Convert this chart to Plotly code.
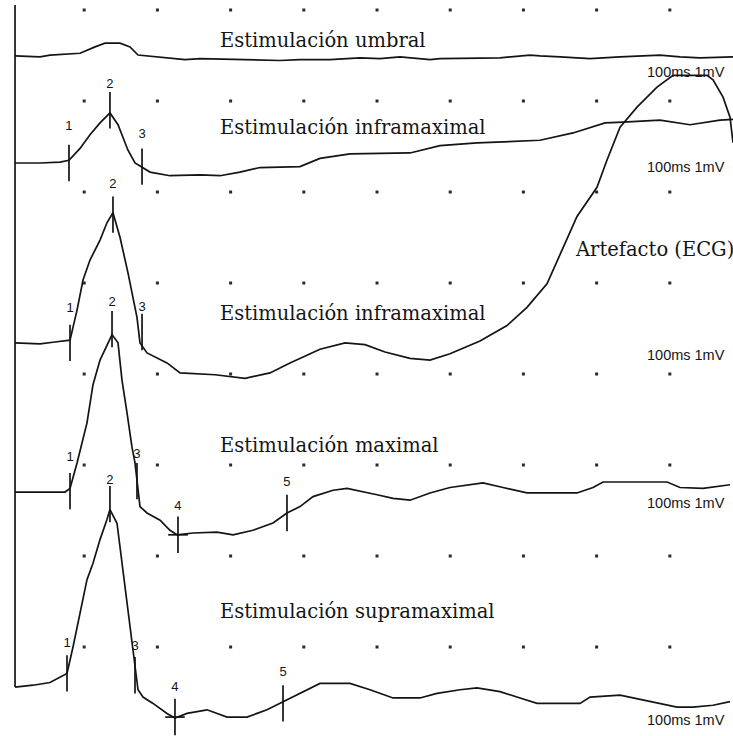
import plotly.graph_objects as go

# ---- data (time in ms, amplitude in mV relative to each trace baseline) ----
t_umbral = [0.55, 3.96, 5.33, 9.43, 11.48, 12.84, 14.89, 16.26, 17.35, 21.04, 23.77, 25.82, 32.65,
            36.75, 39.48, 43.58, 47.68, 50.41, 53.14, 55.87, 57.24, 58.61, 66.8, 70.9, 72.27, 75.0,
            79.1, 83.2, 88.66, 91.39, 94.13, 98.63]
a_umbral = [0.0, -0.01, 0.01, 0.03, 0.10, 0.14, 0.14, 0.10, 0.01, -0.02, -0.04, -0.03, -0.04,
            -0.05, -0.04, -0.04, -0.02, -0.03, -0.01, -0.03, -0.04, -0.03, -0.02, 0.01, 0.0, -0.01,
            -0.03, -0.01, 0.01, -0.01, -0.02, -0.01]

t_infra1 = [0.55, 3.96, 6.69, 7.92, 9.43, 10.79, 12.16, 13.52, 14.62, 15.98, 16.94, 17.9, 18.99,
            21.72, 25.82, 28.55, 31.28, 34.02, 39.48, 42.21, 46.31, 54.51, 58.61, 63.66, 72.27,
            76.78, 81.15, 83.61, 88.66, 92.76, 96.86, 98.63]
a_infra1 = [0.0, 0.0, 0.01, 0.03, 0.16, 0.31, 0.44, 0.55, 0.42, 0.14, 0.0, -0.05, -0.10,
            -0.14, -0.13, -0.14, -0.10, -0.05, -0.04, 0.05, 0.10, 0.11, 0.19, 0.22, 0.25,
            0.33, 0.44, 0.45, 0.47, 0.42, 0.47, 0.48]

t_infra2 = [0.55, 3.96, 6.0, 8.06, 9.02, 9.84, 10.79, 12.16, 13.11, 13.93, 14.89, 15.98, 17.21,
            17.62, 18.58, 21.31, 23.09, 27.87, 31.97, 35.38, 38.11, 42.21, 45.63, 48.36, 51.09,
            54.51, 57.24, 59.97, 64.07, 67.76, 70.49, 73.22, 75.0, 77.32, 80.05, 81.42, 83.2,
            85.52, 88.25, 90.44, 95.08, 95.9, 97.27, 98.22, 98.63]
a_infra2 = [-0.01, -0.02, 0.0, 0.02, 0.35, 0.68, 0.90, 1.12, 1.31, 1.42, 1.15, 0.76, 0.27,
            -0.01, -0.12, -0.23, -0.34, -0.36, -0.40, -0.34, -0.23, -0.08, -0.01, -0.03, -0.11,
            -0.18, -0.20, -0.13, 0.01, 0.18, 0.38, 0.64, 0.96, 1.38, 1.70, 2.0, 2.36,
            2.58, 2.80, 2.93, 2.93, 2.88, 2.69, 2.47, 2.19]

t_max = [0.55, 7.38, 8.06, 9.02, 10.38, 11.2, 12.16, 13.8, 14.62, 15.16, 15.85, 16.53, 16.94,
         17.35, 17.62, 18.58, 20.36, 21.72, 22.68, 24.86, 28.14, 30.33, 33.06, 35.79, 37.7,
         39.48, 41.26, 43.99, 45.9, 50.0, 52.19, 54.51, 57.24, 59.97, 64.48, 67.21, 70.49,
         77.32, 79.51, 80.87, 89.62, 91.39, 94.54, 98.22]
a_max = [0.0, 0.0, 0.04, 0.32, 0.76, 1.18, 1.45, 1.73, 1.64, 1.23, 0.87, 0.49, 0.32,
         0.02, -0.16, -0.23, -0.31, -0.42, -0.47, -0.45, -0.44, -0.47, -0.42, -0.34, -0.23,
         -0.16, -0.05, 0.02, 0.04, -0.03, -0.07, -0.09, -0.01, 0.05, 0.10, 0.05, -0.01,
         -0.01, 0.05, 0.11, 0.11, 0.05, 0.04, 0.08]

t_supra = [0.55, 3.0, 5.33, 7.65, 8.47, 9.43, 10.38, 11.2, 12.16, 13.11, 13.52, 14.48, 15.16,
           15.85, 16.53, 16.94, 17.35, 18.03, 19.4, 21.31, 22.4, 24.04, 26.78, 29.51, 32.24,
           34.97, 37.16, 39.48, 42.21, 46.31, 49.04, 52.19, 55.87, 58.2, 61.34, 63.66, 66.8,
           69.54, 71.86, 77.73, 79.1, 83.2, 86.34, 88.66, 90.98, 93.17, 95.9, 98.22]
a_supra = [0.0, 0.02, 0.05, 0.15, 0.44, 0.81, 1.18, 1.36, 1.62, 1.84, 1.95, 1.80, 1.36,
           0.92, 0.52, 0.22, -0.03, -0.11, -0.18, -0.29, -0.34, -0.29, -0.25, -0.33, -0.33,
           -0.25, -0.16, -0.07, 0.04, 0.04, -0.03, -0.12, -0.12, -0.07, -0.03, -0.01, -0.05,
           -0.12, -0.18, -0.18, -0.11, -0.09, -0.14, -0.18, -0.22, -0.22, -0.20, -0.16]

trace_names = ["Estimulación umbral", "Estimulación inframaximal", "Estimulación inframaximal",
               "Estimulación maximal", "Estimulación supramaximal"]
trace_offsets = [-0.505, -1.681, -3.648, -5.297, -7.440]
trace_t = [t_umbral, t_infra1, t_infra2, t_max, t_supra]
trace_a = [a_umbral, a_infra1, a_infra2, a_max, a_supra]

# latency markers per trace: labels, time, tick centre amplitude, label amplitude
mark_labels = [[], ["1", "2", "3"], ["1", "2", "3"], ["1", "2", "3", "4", "5"], ["1", "2", "3", "4", "5"]]
mark_t = [[], [7.92, 13.52, 17.9], [8.06, 13.93, 17.9],
          [8.06, 13.8, 17.21, 22.81, 37.7], [7.65, 13.52, 16.94, 22.4, 37.16]]
mark_amp = [[], [0.0, 0.58, -0.04], [-0.01, 1.40, 0.11],
            [0.01, 1.79, 0.12, -0.47, -0.23], [0.15, 2.01, 0.13, -0.33, -0.18]]
mark_label_amp = [[], [0.40, 0.86, 0.31], [0.37, 1.73, 0.38],
                  [0.38, 2.08, 0.41, -0.16, 0.10], [0.48, 2.27, 0.44, -0.01, 0.16]]

# text label positions (ms, absolute vertical units)
title_t = [28.28, 28.28, 28.28, 28.28, 28.28]
title_y = [-0.33, -1.286, -3.33, -4.79, -6.615]
artefact_label = "Artefacto (ECG)"
artefact_pos = (76.78, -2.637)
scale_label = "100ms 1mV"
scale_t = 86.6
scale_y = [-0.681, -1.725, -3.79, -5.418, -7.80]

grid_cols = [10, 20, 30, 40, 50, 60, 70, 80, 90]
grid_rows = [0, -1, -2, -3, -4, -5, -6, -7]

INK = "#141414"
fig = go.Figure()

# dotted grid
gx = [c for r in grid_rows for c in grid_cols]
gy = [r for r in grid_rows for c in grid_cols]
fig.add_trace(go.Scatter(x=gx, y=gy, mode="markers",
                         marker=dict(symbol="square", size=3, color="#2a2a2a", line=dict(width=0)),
                         hoverinfo="skip", showlegend=False))

# left vertical reference line
fig.add_trace(go.Scatter(x=[0.55, 0.55], y=[0.055, trace_offsets[-1]], mode="lines",
                         line=dict(color=INK, width=1.7), hoverinfo="skip", showlegend=False))

for k in range(5):
    off = trace_offsets[k]
    fig.add_trace(go.Scatter(x=trace_t[k], y=[off + a for a in trace_a[k]], mode="lines",
                             line=dict(color=INK, width=1.7), name=trace_names[k], showlegend=False))
    if mark_t[k]:
        fig.add_trace(go.Scatter(x=mark_t[k], y=[off + a for a in mark_amp[k]], mode="markers",
                                 marker=dict(symbol="line-ns", size=26,
                                             line=dict(width=1.7, color=INK)),
                                 hoverinfo="skip", showlegend=False))
        cx = [t for t, l in zip(mark_t[k], mark_labels[k]) if l == "4"]
        cy = [off + a for a, l in zip(mark_amp[k], mark_labels[k]) if l == "4"]
        if cx:
            fig.add_trace(go.Scatter(x=cx, y=cy, mode="markers",
                                     marker=dict(symbol="line-ew", size=14,
                                                 line=dict(width=1.7, color=INK)),
                                     hoverinfo="skip", showlegend=False))
        fig.add_trace(go.Scatter(x=mark_t[k], y=[off + a for a in mark_label_amp[k]], mode="text",
                                 text=mark_labels[k],
                                 textfont=dict(family="Liberation Sans, Arial", size=13, color=INK),
                                 hoverinfo="skip", showlegend=False))

annotations = []
for k in range(5):
    annotations.append(dict(x=title_t[k], y=title_y[k], text=trace_names[k], showarrow=False,
                            xanchor="left", yanchor="middle",
                            font=dict(family="DejaVu Serif", size=19.5, color=INK)))
    annotations.append(dict(x=scale_t, y=scale_y[k], text=scale_label, showarrow=False,
                            xanchor="left", yanchor="middle",
                            font=dict(family="Liberation Sans, Arial", size=14.5, color=INK)))
annotations.append(dict(x=artefact_pos[0], y=artefact_pos[1], text=artefact_label, showarrow=False,
                        xanchor="left", yanchor="middle",
                        font=dict(family="DejaVu Serif", size=19.5, color=INK)))

fig.update_layout(
    width=733, height=736,
    margin=dict(l=0, r=0, t=0, b=0),
    paper_bgcolor="white", plot_bgcolor="white",
    xaxis=dict(range=[-1.503, 98.63], visible=False, fixedrange=True),
    yaxis=dict(range=[-7.978, 0.110], visible=False, fixedrange=True),
    annotations=annotations,
    showlegend=False,
)

fig.write_html("out.html")
